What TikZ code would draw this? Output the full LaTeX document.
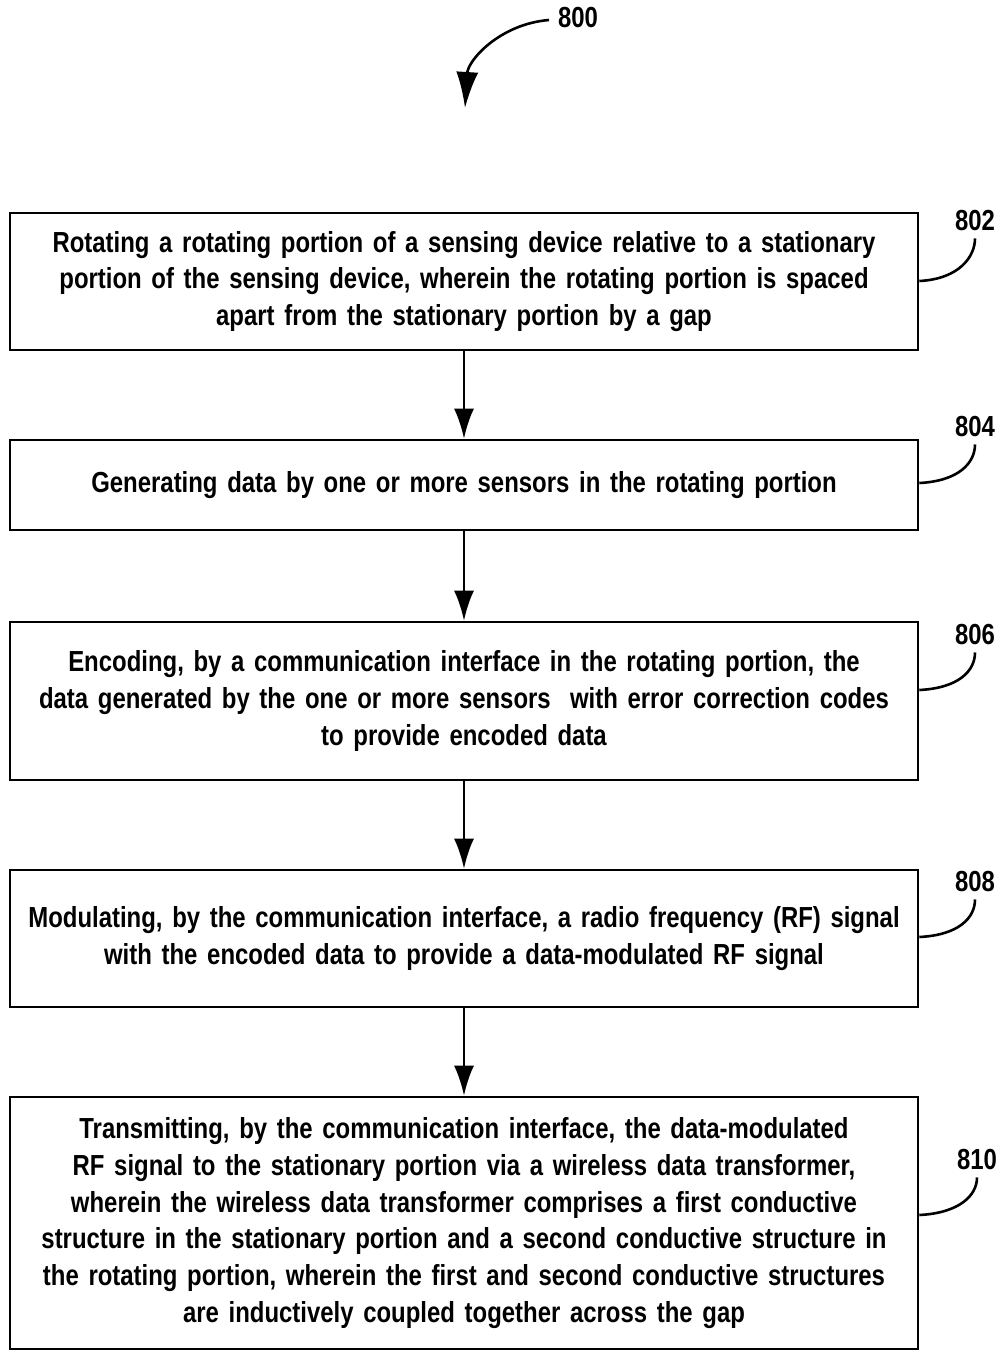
\documentclass[tikz,border=0pt]{standalone}
\usepackage{fontspec}
\setmainfont{Liberation Sans}[FakeStretch=0.825,WordSpace=0.75]
\usetikzlibrary{arrows.meta}
\begin{document}
\begin{tikzpicture}[x=1pt,y=-1pt,
  stepbox/.style={draw,line width=2.6pt,minimum width=908pt,text width=905pt,align=center,inner sep=0pt,
    font=\fontsize{29}{36.8}\selectfont\bfseries},
  reflabel/.style={font=\fontsize{29}{34}\selectfont\bfseries,inner sep=0pt},
  flow/.style={line width=2.6pt,-{Latex[length=30pt,width=20pt]}},
  leader/.style={line width=2.6pt}]
\useasboundingbox (0,0) rectangle (1000,1350);
\node[stepbox,minimum height=137pt] (b802) at (464,281.5) {Rotating a rotating portion of a sensing device relative to a stationary\\portion of the sensing device, wherein the rotating portion is spaced\\apart from the stationary portion by a gap};
\node[stepbox,minimum height=90pt] (b804) at (464,485) {Generating data by one or more sensors in the rotating portion};
\node[stepbox,minimum height=158pt] (b806) at (464,701) {Encoding, by a communication interface in the rotating portion, the\\data generated by the one or more sensors \ with error correction codes\\to provide encoded data};
\node[stepbox,minimum height=137pt] (b808) at (464,938.5) {Modulating, by the communication interface, a radio frequency (RF) signal\\with the encoded data to provide a data-modulated RF signal};
\node[stepbox,minimum height=252pt] (b810) at (464,1223) {Transmitting, by the communication interface, the data-modulated\\RF signal to the stationary portion via a wireless data transformer,\\wherein the wireless data transformer comprises a first conductive\\structure in the stationary portion and a second conductive structure in\\the rotating portion, wherein the first and second conductive structures\\are inductively coupled together across the gap};
\draw[flow] (b802.south) -- (b804.north);
\draw[flow] (b804.south) -- (b806.north);
\draw[flow] (b806.south) -- (b808.north);
\draw[flow] (b808.south) -- (b810.north);
% labels
\node[reflabel] (l800) at (578,18) {800};
\node[reflabel] (l802) at (975,221) {802};
\node[reflabel] (l804) at (975,427) {804};
\node[reflabel] (l806) at (975,635) {806};
\node[reflabel] (l808) at (975,882) {808};
\node[reflabel] (l810) at (977,1160) {810};
\coordinate (s800) at (549,20);
\coordinate (t800) at (465,108);
\draw[line width=2.6pt,-{Latex[length=36pt,width=22pt]}] (s800) .. controls (500,24) and (468,60) .. (t800);
\foreach \n/\y in {802/281,804/483,806/690,808/937,810/1215}{
  \draw[leader] (b\n.east |- 0,\y) .. controls ++(40,-2) and ++(0,18) .. ([yshift=-7pt]l\n.south);
}
\end{tikzpicture}
\end{document}
